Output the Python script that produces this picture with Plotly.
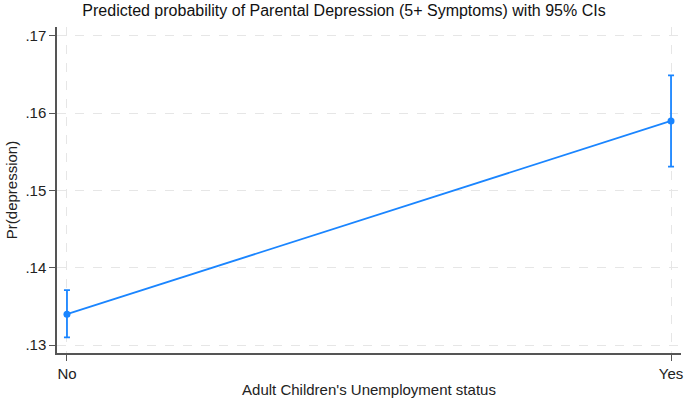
import plotly.graph_objects as go

categories = ["No", "Yes"]
cat_pos = [0, 1]
pred = [0.1340, 0.1590]
ci_low = [0.1310, 0.1531]
ci_high = [0.1371, 0.1649]
ytick_vals = [0.13, 0.14, 0.15, 0.16, 0.17]
ytick_text = [".13", ".14", ".15", ".16", ".17"]

blue = "#1a85ff"
font = "Liberation Sans, Arial, sans-serif"

fig = go.Figure()
fig.add_trace(go.Scatter(
    x=cat_pos, y=pred, mode="lines+markers",
    line=dict(color=blue, width=1.8),
    marker=dict(color=blue, size=7),
    error_y=dict(type="data", symmetric=False,
                 array=[h - p for h, p in zip(ci_high, pred)],
                 arrayminus=[p - l for p, l in zip(pred, ci_low)],
                 color=blue, thickness=1.8, width=3),
    showlegend=False,
))

fig.update_layout(
    width=688, height=401,
    margin=dict(l=57, r=5, t=27, b=47),
    paper_bgcolor="white", plot_bgcolor="white",
    font=dict(family=font, size=15, color="#222"),
    title=dict(text="Predicted probability of Parental Depression (5+ Symptoms) with 95% CIs",
               x=0.5, xanchor="center", y=0.973, yanchor="middle",
               font=dict(size=16, family=font, color="#111")),
)
fig.update_xaxes(
    range=[-0.0165, 1.0165], tickvals=cat_pos, ticktext=categories,
    showline=True, linecolor="#555", linewidth=1.5,
    ticks="outside", ticklen=6, tickcolor="#555", tickwidth=1.2,
    showgrid=True, gridcolor="#e6e6e6", griddash="dash", gridwidth=1,
    zeroline=False,
    title=dict(text="Adult Children's Unemployment status", font=dict(size=15), standoff=4),
    tickfont=dict(size=15),
)
fig.update_yaxes(
    range=[0.12897, 0.17116], tickvals=ytick_vals, ticktext=ytick_text,
    showline=True, linecolor="#555", linewidth=1.5,
    ticks="outside", ticklen=6, tickcolor="#555", tickwidth=1.2,
    showgrid=True, gridcolor="#e6e6e6", griddash="dash", gridwidth=1,
    zeroline=False,
    title=dict(text="Pr(depression)", font=dict(size=15), standoff=4),
    tickfont=dict(size=15),
)

fig.write_html("out.html")
